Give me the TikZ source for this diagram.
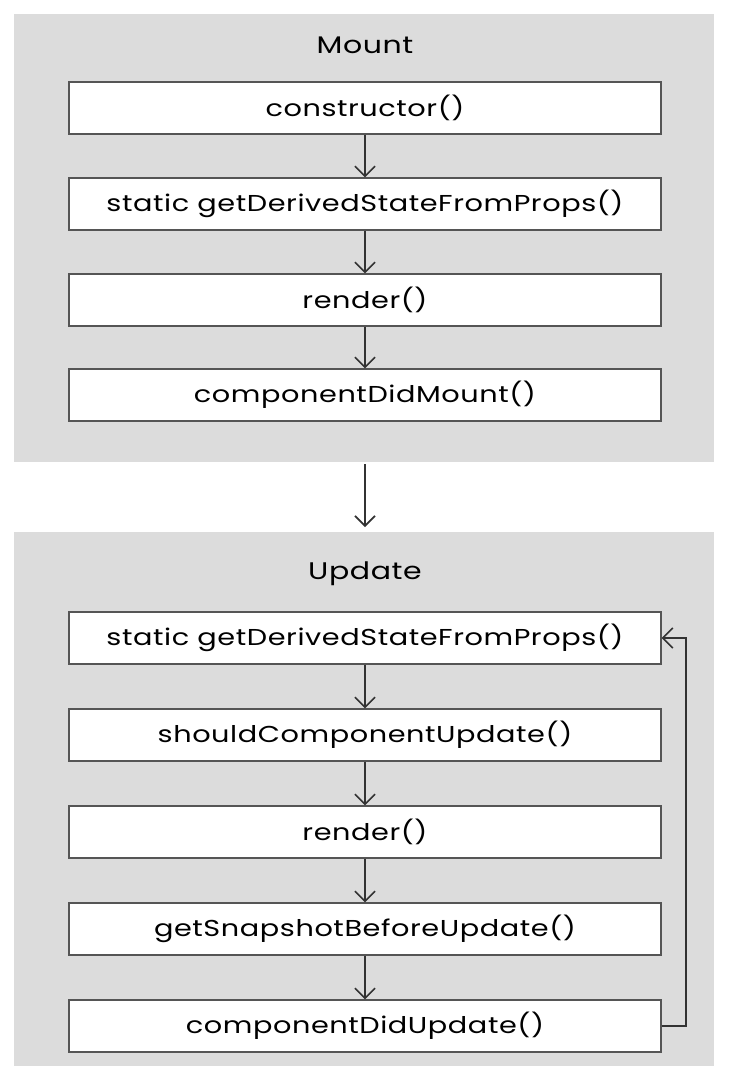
\documentclass[tikz,border=0pt]{standalone}
\usepackage{fontspec}
\setmainfont{Poppins}[FakeStretch=1.25,LetterSpace=2.5]
\usetikzlibrary{arrows.meta,positioning}
\definecolor{panelgray}{HTML}{DCDCDC}
\definecolor{boxline}{HTML}{555555}
\definecolor{arrowcol}{HTML}{333333}
\begin{document}
\begin{tikzpicture}[x=1pt,y=-1pt,
  panel/.style={fill=panelgray,draw=none,minimum width=700pt,inner sep=0pt,outer sep=0pt},
  stepbox/.style={draw=boxline,line width=1.3pt,fill=white,minimum width=592pt,minimum height=52pt,inner sep=0pt,font=\fontsize{23}{26}\selectfont,text=black},
  title/.style={font=\fontsize{24}{28}\selectfont,text=black},
  flow/.style={draw=arrowcol,line width=1.6pt,-{Straight Barb[length=10pt,width=20pt,line width=1.6pt]}}
]
\useasboundingbox (0,0) rectangle (729,1082);
\fill[white] (0,0) rectangle (729,1082);
\node[panel,minimum height=448pt] (mount) at (364,238) {};
\node[panel,minimum height=534pt] (update) at (364,799) {};
\node[title] (tm) at (365,45) {Mount};
\node[title] (tu) at (365,574) {Update};
\node[stepbox] (m1) at (365,108) {constructor()};
\node[stepbox] (m2) at (365,204) {static getDerivedStateFromProps()};
\node[stepbox] (m3) at (365,300) {render()};
\node[stepbox] (m4) at (365,395) {componentDidMount()};
\node[stepbox] (u1) at (365,638) {static getDerivedStateFromProps()};
\node[stepbox] (u2) at (365,735) {shouldComponentUpdate()};
\node[stepbox] (u3) at (365,832) {render()};
\node[stepbox] (u4) at (365,929) {getSnapshotBeforeUpdate()};
\node[stepbox] (u5) at (365,1026) {componentDidUpdate()};
\draw[flow] (m1) -- (m2);
\draw[flow] (m2) -- (m3);
\draw[flow] (m3) -- (m4);
\draw[flow,shorten <=2pt,shorten >=5pt] (mount.south -| m4.south) -- (update.north -| m4.south);
\draw[flow] (u1) -- (u2);
\draw[flow] (u2) -- (u3);
\draw[flow] (u3) -- (u4);
\draw[flow] (u4) -- (u5);
\coordinate (lb) at (686,1026);
\coordinate (lt) at (686,638);
\draw[flow] (u5.east) -- (lb) -- (lt) -- (u1.east);
\end{tikzpicture}
\end{document}
